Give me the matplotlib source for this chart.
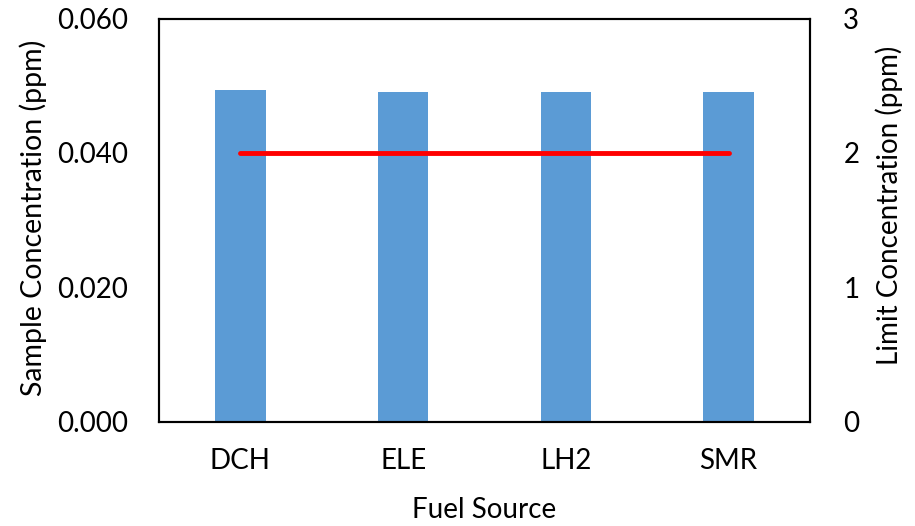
import matplotlib
matplotlib.use("Agg")
import matplotlib.pyplot as plt

plt.rcParams['font.family'] = ['Lato', 'DejaVu Sans']

fuel = ["DCH", "ELE", "LH2", "SMR"]
sample_ppm = [0.0494, 0.0490, 0.0490, 0.0490]
limit_ppm = [2, 2, 2, 2]

fig = plt.figure(figsize=(9.15, 5.26), dpi=100)
ax = fig.add_axes([0.1738, 0.1983, 0.7114, 0.7665])
x = range(len(fuel))
ax.bar(x, sample_ppm, width=0.31, color="#5b9bd5", zorder=2)
ax.set_xlim(-0.5, len(fuel) - 0.5)
ax.set_ylim(0, 0.060)
ax.set_yticks([0, 0.02, 0.04, 0.06])
ax.set_yticklabels(["0.000", "0.020", "0.040", "0.060"])
ax.set_xticks(list(x))
ax.set_xticklabels(fuel)
ax.tick_params(length=0, labelsize=20)
ax.tick_params(axis='y', pad=22)
ax.tick_params(axis='x', pad=19)
ax.set_xlabel("Fuel Source", fontsize=20)
ax.xaxis.set_label_coords(0.5, -0.187)
ax.set_ylabel("Sample Concentration (ppm)", fontsize=20.5)
ax.yaxis.set_label_coords(-0.172, 0.506)
for s in ax.spines.values():
    s.set_linewidth(1.5)

ax2 = ax.twinx()
ax2.plot(list(x), limit_ppm, color="#ff0000", linewidth=3.5, solid_capstyle="round", zorder=3)
ax2.set_ylim(0, 3)
ax2.set_yticks([0, 1, 2, 3])
ax2.tick_params(length=0, labelsize=20, pad=24)
ax2.set_ylabel("Limit Concentration (ppm)", fontsize=20)
ax2.yaxis.set_label_coords(1.100, 0.537)
for s in ax2.spines.values():
    s.set_linewidth(1.5)

fig.savefig("out.png", dpi=100)
